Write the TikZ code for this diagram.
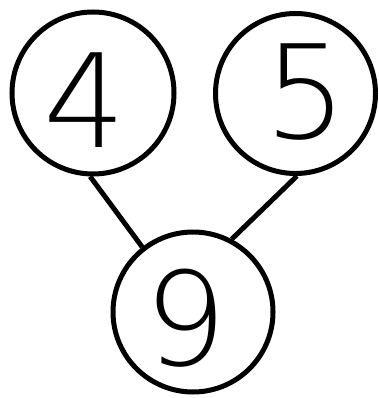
\documentclass[tikz,border=0pt]{standalone}
\usepackage{fontspec}
\newfontfamily\digfont{DejaVu Sans ExtraLight}
\begin{document}
\begin{tikzpicture}[x=1pt,y=-1pt,
  ring/.style={circle,draw=black,line width=5pt,inner sep=0pt,minimum size=#1},
  digit/.style={inner sep=0pt,font=\digfont\fontsize{130}{130}\selectfont},
  link/.style={draw=black,line width=5pt}]
\useasboundingbox (0,0) rectangle (379,398);
\node[ring=162] (A) at (93,93) {};
\node[ring=160] (B) at (295.5,93.5) {};
\node[ring=160] (C) at (193,312) {};
\node[digit] (t4) at (85,100) {4};
\node[digit] (t5) at (306,92) {5};
\node[digit] (t9) at (186,318) {9};
\draw[link] (A.268) -- (C.128);
\draw[link] (B.271) -- (C.62);
\end{tikzpicture}
\end{document}
